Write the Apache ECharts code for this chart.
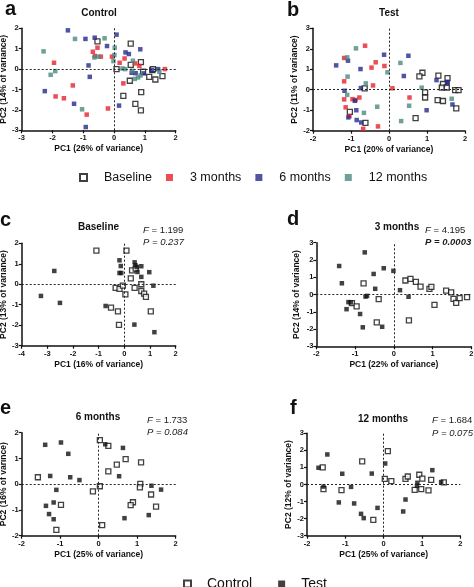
<!DOCTYPE html>
<html><head><meta charset="utf-8">
<script src="https://cdn.jsdelivr.net/npm/echarts@6/dist/echarts.min.js"></script>
<style>html,body{margin:0;padding:0;background:#fff}#c{width:474px;height:587px}</style>
</head><body><div id="c"></div>
<script>
// ---------- DATA ----------
// Panel a (Control): PC1 vs PC2 by time point
const aBaseline = [[-0.54,1.36],[0.54,1.25],[0.08,0],[0.54,0.21],[0.87,0.34],[1.24,-0.05],[0.94,-0.13],[1.14,-0.38],[1.34,-0.51],[1.57,-0.34],[0.51,-0.57],[0.88,-1.13],[0.30,-1.31],[0.69,-1.70],[0.87,-2.02],[1.26,0]];
const a3m = [[-1.95,0.31],[-1.90,-1.34],[-1.63,-1.43],[-1.34,-0.80],[-0.89,-2.23],[-0.69,0.85],[-0.54,1.05],[-0.62,0.64],[-0.43,0.61],[-0.07,0.61],[-0.20,-1.93],[0.18,0.31],[0.34,0.52],[0.30,-0.70],[0.68,0.28],[0.82,0.16],[1.65,0]];
const a6m = [[-1.50,1.90],[-2.25,-1.08],[-1.30,-1.70],[-0.93,1.48],[-0.83,0.18],[-0.79,-0.38],[-0.92,-2.84],[-0.63,1.54],[-0.23,1.13],[0.08,1.69],[0.37,0.82],[0.48,0.74],[0.85,0.97],[0.16,-1.79],[0.57,-0.18],[0.70,-0.20],[0.96,-0.21],[1.43,0],[1.22,-0.05]];
const a12m = [[-2.29,0.87],[-2.06,-0.28],[-1.91,-0.10],[-1.27,1.48],[-1.04,-1.97],[-0.64,0.57],[-0.50,0.61],[-0.31,1.51],[0.02,1.05],[0.01,0.69],[-0.02,0.39],[0.27,0.03],[0.36,0],[0.59,-0.08],[0.67,-0.48],[0.78,-0.41],[0.86,-0.31],[0.61,0.41],[1.47,-0.13]];
// Panel b (Test)
const bBaseline = [[-0.64,0.07],[-1.03,-1.08],[-0.62,-1.62],[0.88,0.83],[0.80,0.65],[0.95,-0.13],[0.95,-0.38],[1.30,0.69],[1.28,-0.51],[1.42,-0.55],[1.42,0.28],[1.39,0.10],[1.52,0.11],[1.54,0.57],[1.74,-0.02],[1.83,-0.02],[1.77,-0.91],[0.70,-1.39]];
const b3m = [[-1.18,1.55],[-0.63,2.15],[-1.18,0.41],[-1.18,-0.47],[-1.14,-0.86],[-0.96,-0.46],[-0.78,-0.38],[-0.46,1.08],[-0.35,1.34],[-0.42,0.21],[-0.12,1.16],[0.09,0.07],[0.54,-0.38],[-1.04,-1.29],[-0.68,-1.91],[-0.29,-1.79],[-0.88,-0.5]];
const b6m = [[-1.39,1.19],[-1.08,1.42],[-1.17,-0.05],[-0.90,-0.54],[-0.86,-1.0],[-1.07,-1.35],[-0.75,1.01],[-0.74,0.08],[-0.85,-1.48],[-0.73,-1.60],[-0.13,1.71],[0.51,1.66],[0.39,0.67],[0.99,-1.0],[1.25,0.47],[1.54,0.39],[1.67,-0.72],[1.54,0.31]];
const b12m = [[-0.87,2.02],[-1.10,1.58],[-1.09,0.64],[-1.10,-0.25],[-0.61,0.31],[-0.66,-1.13],[-0.31,-0.83],[-0.04,0.85],[0.30,1.31],[0.53,-0.78],[0.32,-1.53],[0.86,0.10],[1.65,-0.44]];
// Panel c (Baseline): Control vs Test
const cControl = [[-1.09,1.64],[0.08,1.64],[-0.34,-0.18],[-0.19,-0.23],[-0.06,-0.07],[0.04,-0.49],[0.25,0.29],[0.30,0.68],[0.40,-0.18],[0.44,0.76],[0.66,0],[0.66,-0.33],[0.77,-0.46],[0.84,-0.62],[1.03,-1.32],[-0.52,-1.14],[-0.25,-1.32],[-0.21,-1.98]];
const cTest = [[-3.25,-0.57],[-2.73,0.65],[-2.51,-0.91],[-0.73,-1.06],[-0.19,1.17],[-0.14,0.89],[-0.19,0.55],[-0.12,0.55],[0.40,1.07],[0.43,0.93],[0.48,0.85],[0.51,0.60],[0.66,0.88],[0.66,0.36],[0.97,0.59],[1.13,-0.07],[0.39,-1.97],[1.17,-2.34]];
// Panel d (3 months)
const dControl = [[-0.78,0.65],[-1.08,-0.5],[-0.96,-0.69],[-0.39,-0.27],[-0.44,-1.62],[0.30,0.81],[0.43,0.90],[0.57,0.73],[0.69,0.46],[0.92,0.33],[0.97,0.44],[1.05,-0.60],[1.35,0.23],[1.48,0.12],[1.54,-0.25],[1.61,-0.48],[1.70,-0.21],[1.89,-0.15],[0.39,-1.5]];
const dTest = [[-1.41,1.65],[-1.34,0.65],[-0.75,2.44],[-0.52,1.19],[-0.26,1.52],[-0.01,1.37],[-0.48,0.33],[-0.73,-0.12],[-0.69,-0.08],[-1.17,-0.44],[-1.11,-0.46],[-1.22,-0.85],[-0.87,-1.13],[-0.80,-1.90],[-0.30,-1.87],[0.16,0.25],[0.38,-0.13]];
// Panel e (6 months)
const eControl = [[-1.58,0.27],[-0.98,-0.80],[-1.10,-1.77],[-0.15,-0.28],[0.03,-0.08],[0.03,1.71],[0.25,1.49],[0.25,0.50],[0.47,0.76],[0.70,0.97],[1.10,0.85],[1.08,0.01],[1.07,-0.12],[1.36,-0.40],[0.89,-0.70],[0.83,-0.81],[1.49,-0.87],[0.09,-1.59]];
const eTest = [[-1.39,1.53],[-0.98,1.62],[-0.79,1.18],[-1.26,0.32],[-0.74,0.27],[-0.50,0.16],[-1.10,-0.22],[-1.17,-0.71],[-1.37,-0.84],[-1.29,-1.16],[-1.17,-1.36],[0.17,1.55],[0.63,1.41],[0.53,0.31],[0.67,-1.32],[1.37,-0.06],[1.62,-0.21],[1.30,-1.20]];
// Panel f (12 months)
const fControl = [[-1.59,1.0],[-1.57,-0.27],[-1.10,-0.33],[-0.56,1.35],[-0.27,-2.07],[0.03,0.33],[0.11,1.96],[0.20,0.20],[0.57,0.33],[0.63,0.47],[0.81,-0.31],[0.93,0.57],[1.01,0.35],[0.98,-0.27],[1.24,0.27],[1.17,-0.35],[1.57,0.12]];
const fTest = [[-1.70,0.98],[-1.47,1.76],[-1.57,-0.12],[-1.08,0.63],[-1.17,-1.05],[-0.85,-0.14],[-0.77,-1.11],[-0.59,-1.72],[-0.52,-1.97],[-0.31,0.64],[-0.16,-1.37],[0.04,1.23],[0.51,-1.58],[0.57,-0.88],[0.88,0.10],[1.27,0.84],[1.50,0.14],[0.87,-0.08]];

// Axis ranges [min, max]
const xRanges = [[-3,2],[-2,2],[-4,2],[-2,2],[-2,2],[-2,2]];
const yRanges = [[-3,2],[-2,3],[-3,2],[-3,3],[-2,2],[-3,3]];
const xNames = ['PC1 (26% of variance)','PC1 (20% of variance)','PC1 (16% of variance)','PC1 (22% of variance)','PC1 (25% of variance)','PC1 (25% of variance)'];
const yNames = ['PC2 (14% of variance)','PC2 (11% of variance)','PC2 (13% of variance)','PC2 (14% of variance)','PC2 (16% of varince)','PC2 (12% of variance)'];
const timeNames = ['Baseline','3 months','6 months','12 months'];
const groupNames = ['Control','Test'];
const statsF = ['1.199','4.195','1.733','1.684'];
const statsP = ['0.237','0.0003','0.084','0.075'];

// ---------- LAYOUT / STYLE ----------
const FONT = "'Liberation Sans', Arial, Helvetica, sans-serif";
const grids = [
  {left:21.7, top:28.3, width:154, height:102},
  {left:313, top:28.3, width:152, height:102.4},
  {left:21.7, top:243.3, width:154, height:102.4},
  {left:316.3, top:242.7, width:155, height:103.6},
  {left:21.7, top:432.7, width:154, height:103},
  {left:307, top:433.3, width:153.3, height:102.4}
];
const yNameGaps = [13,14,12.5,15,13,8.5];
const xNameGap = 14;

const colors = {m3:'#e8202a', m6:'#262a8a', m12:'#4b8a80'};
const openStyle = {color:'#ffffff', borderColor:'#111', borderWidth:1.3};
const filledStyle = {color:'#111', borderColor:'#111', borderWidth:0};

const xAxes = xRanges.map((r,i)=>({
  type:'value', gridIndex:i, min:r[0], max:r[1], interval:1,
  name:xNames[i], nameLocation:'middle', nameGap:xNameGap,
  nameTextStyle:{fontFamily:FONT, fontWeight:'bold', fontSize:8.5, color:'#111'},
  axisLine:{show:true, onZero:false, lineStyle:{color:'#111', width:1.5}},
  axisTick:{show:true, inside:false, length:3, lineStyle:{color:'#111', width:1.2}},
  axisLabel:{fontFamily:FONT, fontWeight:'bold', fontSize:7.5, color:'#111', margin:4},
  splitLine:{show:false}
}));
const yAxes = yRanges.map((r,i)=>({
  type:'value', gridIndex:i, min:r[0], max:r[1], interval:1,
  name:yNames[i], nameLocation:'middle', nameGap:yNameGaps[i],
  nameTextStyle:{fontFamily:FONT, fontWeight:'bold', fontSize:8.5, color:'#111'},
  axisLine:{show:true, onZero:false, lineStyle:{color:'#111', width:1.5}},
  axisTick:{show:true, inside:false, length:3, lineStyle:{color:'#111', width:1.2}},
  axisLabel:{fontFamily:FONT, fontWeight:'bold', fontSize:7.5, color:'#111', margin:3},
  splitLine:{show:false}
}));

const zeroLines = {
  silent:true, symbol:'none', animation:false,
  label:{show:false},
  lineStyle:{type:[2,2], color:'#222', width:1},
  data:[{xAxis:0},{yAxis:0}]
};

function sc(name, data, idx, style, size, withLines){
  const s = {type:'scatter', name:name, data:data, xAxisIndex:idx, yAxisIndex:idx,
    symbol:'rect', symbolSize:size, itemStyle:style, silent:true, z:3};
  if (withLines) s.markLine = zeroLines;
  return s;
}

const series = [];
[[aBaseline,a3m,a6m,a12m],[bBaseline,b3m,b6m,b12m]].forEach((sets,i)=>{
  const styles=[openStyle,{color:colors.m3},{color:colors.m6},{color:colors.m12}];
  sets.forEach((d,k)=>series.push(sc(timeNames[k], d, i, styles[k], k===0?5:4.5, k===0)));
});
[[cControl,cTest],[dControl,dTest],[eControl,eTest],[fControl,fTest]].forEach((sets,j)=>{
  series.push(sc(groupNames[0], sets[0], j+2, openStyle, 5, true));
  series.push(sc(groupNames[1], sets[1], j+2, filledStyle, 4.5, false));
});

// ---------- TEXT ----------
function txt(x,y,text,opts){
  return Object.assign({type:'text', x:x, y:y, silent:true,
    style:Object.assign({text:text, fontFamily:FONT, fill:'#111', textAlign:'center', textVerticalAlign:'middle'}, opts||{})});
}
function statText(x,y,val,boldP){
  return [
    {type:'text', x:x, y:y, silent:true, style:{text:'{i|F} = '+val[0], textAlign:'left', textVerticalAlign:'middle', fontFamily:FONT, fontSize:9.5, fill:'#1a1a1a',
      rich:{i:{fontStyle:'italic', fontFamily:FONT, fontSize:9.5, fill:'#1a1a1a'}}}},
    {type:'text', x:x, y:y+12.5, silent:true, style:{text:'P = '+val[1], textAlign:'left', textVerticalAlign:'middle', fontFamily:FONT, fontSize:9.5, fill:'#1a1a1a', fontStyle:'italic', fontWeight: boldP?'bold':'normal'}}
  ];
}
const graphics = [
  txt(5,9,'a',{fontSize:20, fontWeight:'bold', textAlign:'left'}),
  txt(99,13,'Control',{fontSize:10, fontWeight:'bold'}),
  txt(287,10,'b',{fontSize:20, fontWeight:'bold', textAlign:'left'}),
  txt(389,13,'Test',{fontSize:10, fontWeight:'bold'}),
  txt(0,220,'c',{fontSize:20, fontWeight:'bold', textAlign:'left'}),
  txt(98.5,227.5,'Baseline',{fontSize:10, fontWeight:'bold'}),
  txt(287,219,'d',{fontSize:20, fontWeight:'bold', textAlign:'left'}),
  txt(397,227.5,'3 months',{fontSize:10, fontWeight:'bold'}),
  txt(0,408,'e',{fontSize:20, fontWeight:'bold', textAlign:'left'}),
  txt(98,417,'6 months',{fontSize:10, fontWeight:'bold'}),
  txt(290,408,'f',{fontSize:20, fontWeight:'bold', textAlign:'left'}),
  txt(383,419,'12 months',{fontSize:10, fontWeight:'bold'})
].concat(
  statText(143,230,[statsF[0],statsP[0]],false),
  statText(425,230,[statsF[1],statsP[1]],true),
  statText(147,420,[statsF[2],statsP[2]],false),
  statText(432,420.5,[statsF[3],statsP[3]],false)
);

const chart = echarts.init(document.getElementById('c'), null, {renderer:'canvas'});
chart.setOption({
  animation:false,
  backgroundColor:'#fff',
  grid: grids.map(g=>Object.assign({containLabel:false, outerBoundsMode:'none'}, g)),
  xAxis:xAxes, yAxis:yAxes,
  legend:[
    {data:timeNames.map(n=>({name:n, icon:'rect'})), left:74, top:166, orient:'horizontal',
     itemWidth:7, itemHeight:7, itemGap:14, selectedMode:false,
     textStyle:{fontFamily:FONT, fontSize:12.5, color:'#111', padding:[0,0,0,12]}},
    {data:groupNames.map(n=>({name:n, icon:'rect'})), left:178, top:572, orient:'horizontal',
     itemWidth:7, itemHeight:7, itemGap:26, selectedMode:false,
     textStyle:{fontFamily:FONT, fontSize:14, color:'#111', padding:[0,0,0,11]}}
  ],
  graphic:graphics,
  series:series
});
</script></body></html>
